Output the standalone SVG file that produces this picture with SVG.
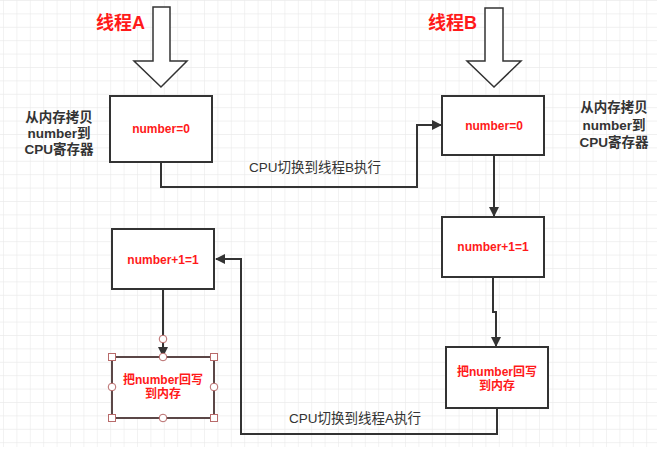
<svg xmlns="http://www.w3.org/2000/svg" width="657" height="472" viewBox="0 0 657 472">
<defs>
<pattern id="grid" x="3" y="0" width="13.4" height="13.4" patternUnits="userSpaceOnUse">
<path d="M0 0 V13.4 M0 0 H13.4" fill="none" stroke="#ebebeb" stroke-width="1.2"/>
</pattern>
<marker id="arr" viewBox="0 0 10 10" refX="9" refY="5" markerWidth="10" markerHeight="10" markerUnits="userSpaceOnUse" orient="auto">
<path d="M0 0 L10 5 L0 10 Z" fill="#333"/>
</marker>
<style>
.box{fill:#fff;stroke:#333;stroke-width:2}
.big{fill:#fff;stroke:#333;stroke-width:1.5}
.val{fill:#ff1a1a;font-family:"Liberation Sans","Noto Sans CJK SC",sans-serif;font-weight:bold;font-size:12px;text-anchor:middle}
.title{fill:#ff1a1a;font-family:"Liberation Sans","Noto Sans CJK SC",sans-serif;font-weight:bold;font-size:18px}
.note{fill:#333;font-family:"Liberation Sans","Noto Sans CJK SC",sans-serif;font-weight:bold;font-size:13.5px;text-anchor:middle}
.lbl{fill:#333;font-family:"Liberation Sans","Noto Sans CJK SC",sans-serif;font-size:13.5px;text-anchor:middle}
.edge{fill:none;stroke:#333;stroke-width:2}
.hs{fill:#fff;stroke:#b86a6a;stroke-width:1}
</style>
</defs>
<rect width="657" height="472" fill="#fff"/>
<rect width="657" height="447" fill="url(#grid)"/>

<g id="threadA">
<polygon class="big" points="153,7 170,7 170,61 187,61 161,87 134,61 153,61"/>
<text class="title" x="96" y="29">线程A</text>
</g>
<g id="threadB">
<polygon class="big" points="485,8 503,8 503,61 521,61 494,87 467,61 485,61"/>
<text class="title" x="428" y="29">线程B</text>
</g>

<g id="noteA">
<text class="note" x="59" y="122">从内存拷贝</text>
<text class="note" x="59" y="138">number到</text>
<text class="note" x="59" y="154">CPU寄存器</text>
</g>
<g id="noteB">
<text class="note" x="614" y="112">从内存拷贝</text>
<text class="note" x="614" y="130">number到</text>
<text class="note" x="614" y="147">CPU寄存器</text>
</g>

<g id="connectors">
<path class="edge" d="M161,162 V187 H417 V125 H441" marker-end="url(#arr)"/>
<text class="lbl" x="315" y="172">CPU切换到线程B执行</text>
<path class="edge" d="M494,155 V216" marker-end="url(#arr)"/>
<path class="edge" d="M493,277 V312 H496 V346" marker-end="url(#arr)"/>
<path class="edge" d="M497,408 V434 H241 V259 H216" marker-end="url(#arr)"/>
<text class="lbl" x="355" y="423">CPU切换到线程A执行</text>
<path class="edge" d="M163,289 V356" marker-end="url(#arr)"/>
</g>

<g id="a1">
<rect class="box" x="110" y="96" width="102" height="66"/>
<text class="val" x="161" y="133">number=0</text>
</g>
<g id="b1">
<rect class="box" x="442" y="96" width="102" height="59"/>
<text class="val" x="494" y="130">number=0</text>
</g>
<g id="b2">
<rect class="box" x="442" y="217" width="102" height="60"/>
<text class="val" x="493" y="251">number+1=1</text>
</g>
<g id="a2">
<rect class="box" x="112" y="229" width="102" height="60"/>
<text class="val" x="163" y="264">number+1=1</text>
</g>
<g id="b3">
<rect class="box" x="446" y="347" width="102" height="61"/>
<text class="val" x="497" y="376">把number回写</text>
<text class="val" x="497" y="390">到内存</text>
</g>
<g id="a3">
<rect x="112" y="357" width="102" height="61" fill="#fff" stroke="#5b4747" stroke-width="2"/>
<text class="val" x="163" y="384">把number回写</text>
<text class="val" x="163" y="398">到内存</text>
<rect class="hs" x="108.5" y="353.5" width="7" height="7"/>
<rect class="hs" x="210.5" y="353.5" width="7" height="7"/>
<rect class="hs" x="108.5" y="414.5" width="7" height="7"/>
<rect class="hs" x="210.5" y="414.5" width="7" height="7"/>
<circle class="hs" cx="163" cy="357" r="3.8"/>
<circle class="hs" cx="112" cy="387" r="3.8"/>
<circle class="hs" cx="214" cy="387" r="3.8"/>
<circle class="hs" cx="163" cy="418" r="3.8"/>
<circle class="hs" cx="163" cy="339" r="3.8"/>
</g>
</svg>
